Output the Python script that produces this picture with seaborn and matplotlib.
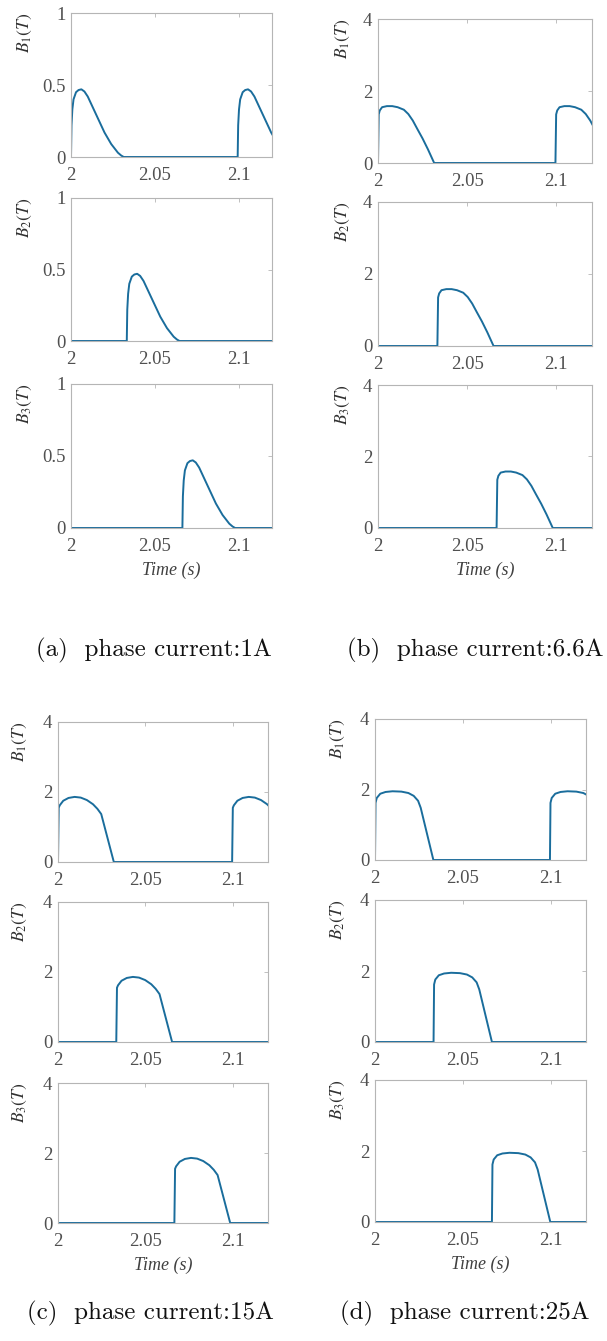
import numpy as np
import pandas as pd
import matplotlib
matplotlib.use("Agg")
import matplotlib.pyplot as plt
import seaborn as sns

sns.set_theme(style="white")
plt.rcParams["font.family"] = ["Liberation Serif", "DejaVu Serif"]
plt.rcParams["mathtext.fontset"] = "stix"

# pulse shape of one phase flux density
# (time since switch-on in s, B in T)
dt_1a = [0, 0.0003, 0.0008, 0.0015, 0.003, 0.0045, 0.0062, 0.008, 0.010, 0.012,
         0.014, 0.016, 0.018, 0.020, 0.022, 0.024, 0.026, 0.028, 0.030, 0.0315]
b_1a = [0, 0.22, 0.33, 0.40, 0.45, 0.465, 0.47, 0.455, 0.42, 0.37,
        0.32, 0.27, 0.22, 0.17, 0.13, 0.09, 0.06, 0.03, 0.01, 0]

dt_6a6 = [0, 0.0004, 0.001, 0.0023, 0.005, 0.008, 0.011, 0.0145, 0.017,
          0.0195, 0.022, 0.025, 0.028, 0.0315]
b_6a6 = [0, 1.35, 1.46, 1.55, 1.58, 1.58, 1.55, 1.48, 1.36,
         1.18, 0.95, 0.68, 0.38, 0]

dt_15a = [0, 0.0004, 0.001, 0.003, 0.006, 0.0095, 0.013, 0.0165, 0.020,
          0.0225, 0.0247, 0.0319]
b_15a = [0, 1.55, 1.62, 1.75, 1.83, 1.86, 1.84, 1.77, 1.65,
         1.52, 1.37, 0]

dt_25a = [0, 0.0003, 0.001, 0.003, 0.006, 0.010, 0.015, 0.019, 0.022,
          0.0245, 0.026, 0.0332]
b_25a = [0, 1.62, 1.76, 1.88, 1.93, 1.95, 1.94, 1.90, 1.82,
         1.68, 1.48, 0]

# switch-on instants of each phase
onsets_b1 = [2.0, 2.0995]
onsets_b2 = [2.0333]
onsets_b3 = [2.0665]

t_start, t_end = 2.0, 2.12
xticks = [2, 2.05, 2.1]
xtick_labels = ["2", "2.05", "2.1"]
yticks_1a = [0, 0.5, 1]
yticks_big = [0, 2, 4]

captions = ["(a)  phase current:1A", "(b)  phase current:6.6A",
            "(c)  phase current:15A", "(d)  phase current:25A"]
phase_labels = [r"$B_1(T)$", r"$B_2(T)$", r"$B_3(T)$"]

line_color = "#1a6d9c"
tick_color = "#505050"
spine_color = "#b5b5b5"

W, H = 607, 1341
fig = plt.figure(figsize=(W / 100, H / 100), dpi=100)


def trace(onsets, dts, bs):
    t = [t_start]
    b = [0.0]
    for on in onsets:
        t.append(on)
        b.append(0.0)
        t += [on + d for d in dts]
        b += list(bs)
    t.append(t_end + 0.02)
    b.append(0.0)
    return pd.DataFrame({"t": t, "B": b})


# panel boxes in pixels: (left, right, [(top, bottom) x3]), ylabel offset
panels = [
    (71, 272, [(13, 157), (198, 341), (384, 528)], 46, dt_1a, b_1a, yticks_1a),
    (378, 592, [(19, 163), (202, 346), (385, 528)], 35, dt_6a6, b_6a6, yticks_big),
    (58, 268, [(722, 862), (902, 1042), (1083, 1223)], 38, dt_15a, b_15a, yticks_big),
    (375, 586, [(719, 860), (900, 1042), (1080, 1222)], 37, dt_25a, b_25a, yticks_big),
]
caption_pos = [(154, 650), (475, 650), (150, 1313), (465, 1313)]

for p, (left, right, rows, lab_off, dts, bs, yt) in enumerate(panels):
    for r, (top, bottom) in enumerate(rows):
        ax = fig.add_axes([left / W, 1 - bottom / H, (right - left) / W,
                           (bottom - top) / H])
        onsets = [onsets_b1, onsets_b2, onsets_b3][r]
        df = trace(onsets, dts, bs)
        sns.lineplot(data=df, x="t", y="B", ax=ax, estimator=None, sort=False,
                     color=line_color, linewidth=1.4)
        ax.set_xlim(t_start, t_end)
        ax.set_ylim(yt[0], yt[-1])
        ax.set_xticks(xticks)
        ax.set_xticklabels(xtick_labels)
        ax.set_yticks(yt)
        ax.set_yticklabels([f"{v:g}" for v in yt])
        ax.tick_params(direction="in", length=3, width=0.6, color=spine_color,
                       labelcolor=tick_color, labelsize=13.5, pad=7,
                       top=True, right=True)
        ax.tick_params(axis="y", pad=4)
        for s in ax.spines.values():
            s.set_color(spine_color)
            s.set_linewidth(0.8)
        ax.set_ylabel(phase_labels[r], fontsize=12.5, color="#303030",
                      loc="top", va="center", labelpad=0)
        ax.yaxis.set_label_coords(-lab_off / (right - left), 1.0)
        if r == 2:
            ax.set_xlabel("Time (s)", fontsize=13, style="italic",
                          color="#404040", labelpad=5)
        else:
            ax.set_xlabel("")
    cx, cy = caption_pos[p]
    fig.text(cx / W, 1 - cy / H, captions[p], ha="center", va="center",
             fontsize=18, family="cmr10", color="#111111")

fig.savefig("out.png", dpi=100)
